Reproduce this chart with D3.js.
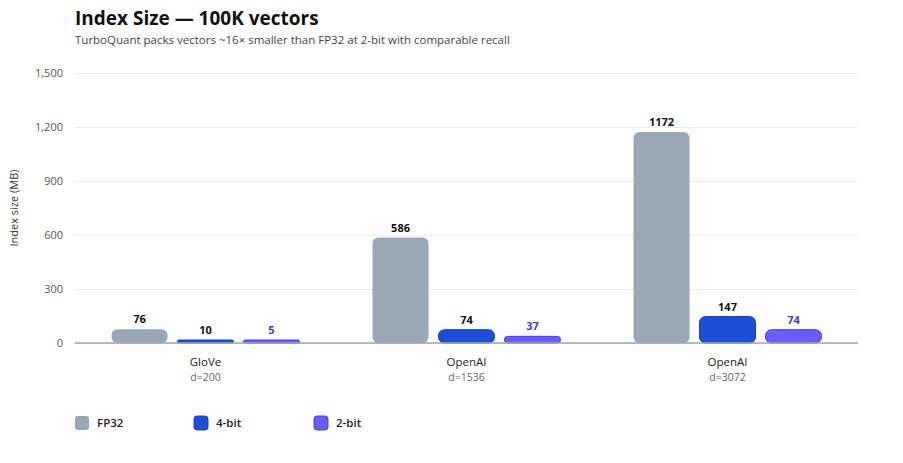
<!DOCTYPE html>
<html><head><meta charset="utf-8">
<script src="https://cdn.jsdelivr.net/npm/d3@7"></script>
<style>body{margin:0;background:#fff;font-family:"Open Sans",sans-serif}</style>
</head><body><svg id="c" width="903" height="463"></svg>
<script>
const categories = ["GloVe","OpenAI","OpenAI"];
const subLabels = ["d=200","d=1536","d=3072"];
const series = ["FP32","4-bit","2-bit"];
const fp32 = [76,586,1172];
const bit4 = [10,74,147];
const bit2 = [5,37,74];
const yTicks = [0,300,600,900,1200,1500];
const values = [fp32,bit4,bit2];
const fills = ["#9aa7b6","#1d4ed8","#6a5cff"];
const strokes = ["none","#1e40af","#4f3fc4"];
const labelCols = ["#111","#111","#4338ca"];

const svg = d3.select("#c");
const m = {l:75, r:858, t:73, b:343};
const x0 = d3.scaleBand().domain(d3.range(categories.length)).range([m.l,m.r]);
const x1 = d3.scaleBand().domain(d3.range(series.length)).range([0,188]).paddingInner(0.15);
const y = d3.scaleLinear().domain([0,1500]).range([m.b,m.t]);

svg.append("text").attr("x",75).attr("y",25).attr("font-size",19).attr("font-weight",700).attr("fill","#111").text("Index Size — 100K vectors");
svg.append("text").attr("x",75).attr("y",44).attr("font-size",11.5).attr("fill","#444").text("TurboQuant packs vectors ~16× smaller than FP32 at 2-bit with comparable recall");

const ga = svg.append("g").attr("transform",`translate(${m.l},0)`)
  .call(d3.axisLeft(y).tickValues(yTicks).tickSize(-(m.r-m.l)).tickPadding(12));
ga.select(".domain").remove();
ga.selectAll(".tick line").attr("stroke","#ececec");
ga.selectAll(".tick text").attr("fill","#555").attr("font-size",11).attr("font-family","Open Sans");
svg.append("text").attr("transform","rotate(-90)").attr("x",-(m.t+m.b)/2).attr("y",18).attr("text-anchor","middle").attr("font-size",11).attr("fill","#333").text("Index size (MB)");

categories.forEach((c,i)=>{
  const cx = x0(i)+x0.bandwidth()/2, gx = cx-94;
  series.forEach((s,j)=>{
    const v = values[j][i], bx = gx+x1(j), w = x1.bandwidth();
    const h = Math.max(y(0)-y(v),3);
    svg.append("rect").attr("x",bx).attr("y",y(0)-h).attr("width",w).attr("height",h)
      .attr("rx",Math.min(6,h/2)).attr("fill",fills[j]).attr("stroke",strokes[j]).attr("stroke-width",1);
    svg.append("text").attr("x",bx+w/2).attr("y",y(0)-h-6).attr("text-anchor","middle")
      .attr("font-size",11).attr("font-weight",700).attr("fill",labelCols[j]).text(v);
  });
  svg.append("text").attr("x",cx).attr("y",366).attr("text-anchor","middle").attr("font-size",11.5).attr("fill","#222").text(c);
  svg.append("text").attr("x",cx).attr("y",381).attr("text-anchor","middle").attr("font-size",10.5).attr("fill","#666").text(subLabels[i]);
});
svg.append("line").attr("x1",m.l).attr("x2",m.r).attr("y1",y(0)).attr("y2",y(0)).attr("stroke","#9aa7b6").attr("stroke-width",1.5);

const lx = [75,194,314];
series.forEach((s,j)=>{
  svg.append("rect").attr("x",lx[j]).attr("y",416).attr("width",14).attr("height",14).attr("rx",3)
    .attr("fill",fills[j]).attr("stroke",strokes[j]);
  svg.append("text").attr("x",lx[j]+22).attr("y",427).attr("font-size",11.5).attr("font-weight",600).attr("fill","#222").text(s);
});
</script></body></html>
